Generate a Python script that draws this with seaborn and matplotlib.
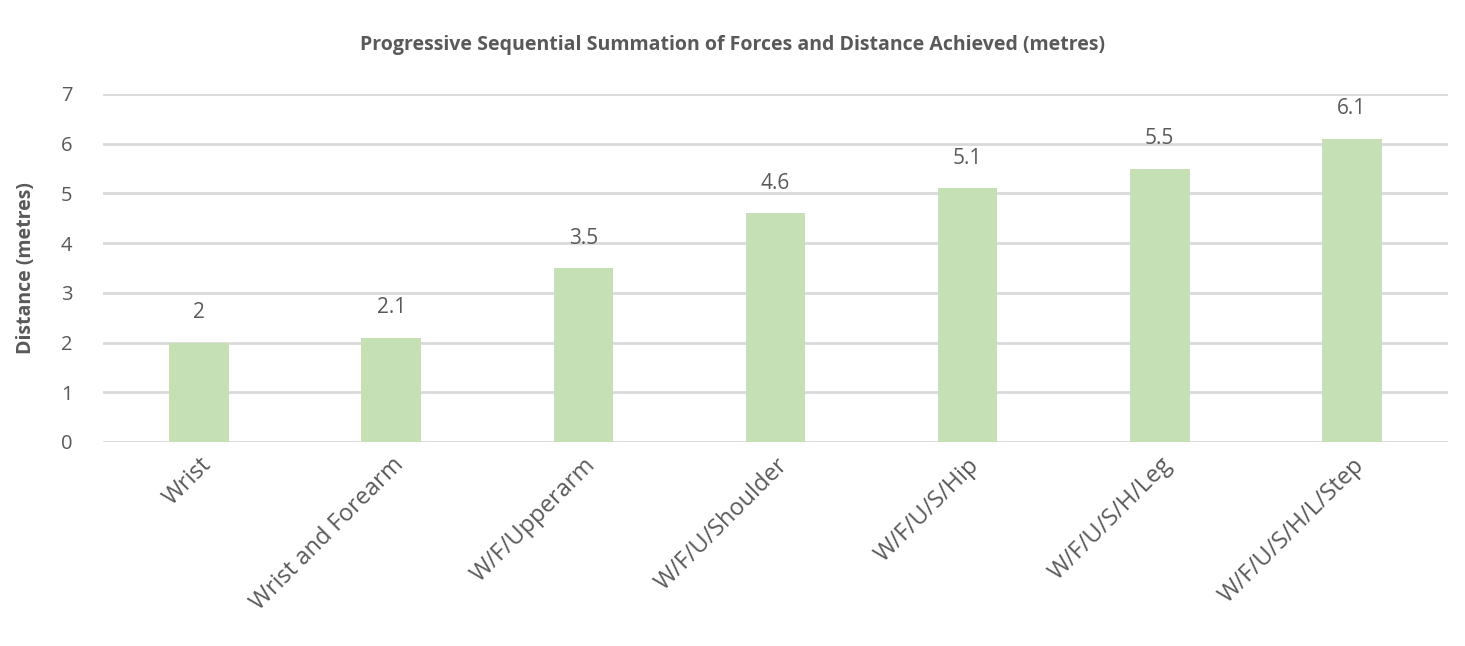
import matplotlib
matplotlib.use("Agg")

import pandas as pd
import matplotlib.pyplot as plt
import seaborn as sns

categories = ["Wrist", "Wrist and Forearm", "W/F/Upperarm", "W/F/U/Shoulder",
              "W/F/U/S/Hip", "W/F/U/S/H/Leg", "W/F/U/S/H/L/Step"]
distances = [2, 2.1, 3.5, 4.6, 5.1, 5.5, 6.1]
value_labels = ["2", "2.1", "3.5", "4.6", "5.1", "5.5", "6.1"]

sns.set_theme(style="white")
plt.rcParams["font.family"] = ["Open Sans", "DejaVu Sans"]

grey = "#595959"
df = pd.DataFrame({"stage": categories, "distance": distances})

fig = plt.figure(figsize=(14.65, 6.46), dpi=100)
ax = fig.add_axes([0.0703, 0.3158, 0.9181, 0.5387])

sns.barplot(data=df, x="stage", y="distance", color="#C5E0B4",
            saturation=1, width=0.31, linewidth=0, ax=ax, zorder=3)

ax.set_ylim(0, 7)
ax.set_xlim(-0.5, len(categories) - 0.5)
ax.set_yticks(range(0, 8))
ax.yaxis.grid(True, color="#D9D9D9", linewidth=2, zorder=0)
ax.set_axisbelow(True)
for s in ax.spines.values():
    s.set_visible(False)

ax.tick_params(axis="y", labelsize=14.5, colors=grey, length=0, pad=22)
ax.tick_params(axis="x", labelsize=17, colors=grey, length=0, pad=8)
plt.setp(ax.get_xticklabels(), rotation=45, ha="right", rotation_mode="anchor")

for i, (v, lab) in enumerate(zip(distances, value_labels)):
    ax.annotate(lab, (i, v), xytext=(0, 14), textcoords="offset points",
                ha="center", va="bottom", fontsize=15, color=grey)

ax.set_xlabel("")
ax.set_ylabel("Distance (metres)", fontsize=14, fontweight="bold", color=grey, labelpad=18)
fig.text(0.5, 0.93, "Progressive Sequential Summation of Forces and Distance Achieved (metres)",
         ha="center", va="center", fontsize=14, fontweight="bold", color=grey)

fig.savefig("out.png", dpi=100, facecolor="white")
